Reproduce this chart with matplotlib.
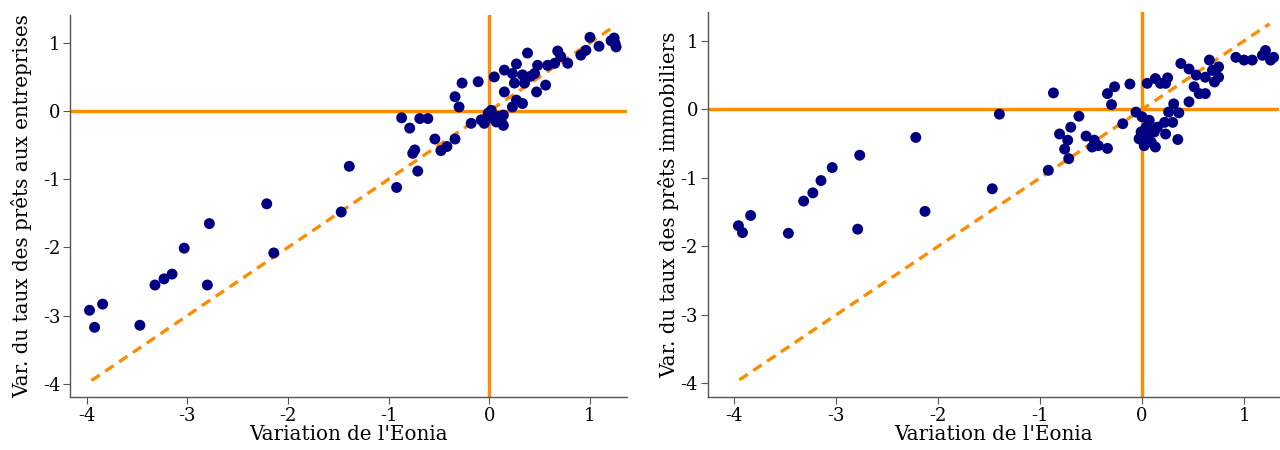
import matplotlib
matplotlib.use("Agg")
import matplotlib.pyplot as plt

# Variation de l'Eonia vs. variation du taux des prêts aux entreprises
x_ent = [-3.97, -3.92, -3.84, -3.47, -3.32, -3.23, -3.15, -3.03, -2.78, -2.80,
         -2.21, -2.14, -1.47, -1.39, -0.92, -0.71, -0.76, -0.74, -0.87, -0.79,
         -0.69, -0.61, -0.54, -0.48, -0.42, -0.34, -0.34, -0.30, -0.27, -0.11,
         -0.18, -0.01, 0.04, 0.09, 0.12, -0.05, 0.07, 0.14, 0.02, -0.08,
         0.14, -0.05, 0.05, 0.15, 0.23, 0.27, 0.15, 0.25, 0.33, 0.35,
         0.41, 0.48, 0.58, 0.65, 0.56, 0.47, 0.23, 0.33, 0.27, 0.38,
         0.45, 0.68, 0.71, 0.78, 0.91, 0.96, 1.00, 1.09, 1.21, 1.25,
         1.26, 1.24]
y_ent = [-2.92, -3.17, -2.83, -3.14, -2.55, -2.46, -2.39, -2.01, -1.65, -2.55,
         -1.36, -2.08, -1.48, -0.81, -1.12, -0.88, -0.62, -0.57, -0.10, -0.25,
         -0.11, -0.11, -0.41, -0.58, -0.52, -0.41, 0.21, 0.06, 0.41, 0.43,
         -0.18, -0.03, -0.11, -0.08, -0.16, -0.16, -0.16, -0.06, 0.01, -0.13,
         -0.21, -0.18, 0.50, 0.60, 0.55, 0.69, 0.28, 0.41, 0.53, 0.41,
         0.51, 0.67, 0.67, 0.70, 0.38, 0.28, 0.06, 0.11, 0.16, 0.85,
         0.55, 0.88, 0.80, 0.70, 0.82, 0.89, 1.08, 0.95, 1.03, 0.99,
         0.94, 1.07]

# Variation de l'Eonia vs. variation du taux des prêts immobiliers
x_imm = [-3.96, -3.92, -3.84, -3.47, -3.32, -3.23, -3.15, -3.04, -2.77, -2.79,
         -2.22, -2.13, -1.47, -1.40, -0.92, -0.87, -0.81, -0.62, -0.70, -0.73,
         -0.76, -0.72, -0.55, -0.47, -0.43, -0.49, -0.34, -0.19, -0.34, -0.27,
         -0.30, -0.12, -0.06, 0.00, 0.07, 0.04, -0.01, 0.10, 0.05, -0.03,
         0.09, 0.13, 0.02, 0.12, 0.15, 0.05, 0.13, 0.18, 0.25, 0.23,
         0.38, 0.46, 0.51, 0.56, 0.62, 0.53, 0.62, 0.71, 0.69, 0.46,
         0.31, 0.36, 0.26, 0.30, 0.22, 0.23, 0.35, 0.75, 0.66, 0.75,
         0.92, 1.00, 1.08, 1.18, 1.21, 1.26, 1.29]
y_imm = [-1.70, -1.80, -1.55, -1.81, -1.34, -1.22, -1.04, -0.85, -0.67, -1.75,
         -0.41, -1.49, -1.16, -0.07, -0.89, 0.24, -0.36, -0.10, -0.26, -0.45,
         -0.58, -0.72, -0.39, -0.45, -0.53, -0.55, -0.57, -0.21, 0.23, 0.33,
         0.07, 0.37, -0.04, -0.11, -0.16, -0.26, -0.33, -0.31, -0.40, -0.43,
         -0.48, -0.55, -0.53, -0.33, -0.26, 0.38, 0.45, 0.38, 0.46, 0.38,
         0.67, 0.59, 0.33, 0.23, 0.23, 0.50, 0.47, 0.40, 0.57, 0.11,
         0.08, -0.05, -0.04, -0.19, -0.19, -0.36, -0.44, 0.47, 0.72, 0.62,
         0.76, 0.72, 0.72, 0.79, 0.86, 0.72, 0.76]

diag = [-3.95, 1.25]
ticks = [-4, -3, -2, -1, 0, 1]

orange = "#ff8c00"
navy = "#000080"

plt.rcParams['font.family'] = ['DejaVu Serif']
plt.rcParams['axes.unicode_minus'] = False

fig = plt.figure(figsize=(12.8, 4.5), dpi=100)
ax1 = fig.add_axes([0.055, 0.118, 0.435, 0.849])
ax2 = fig.add_axes([0.553, 0.118, 0.446, 0.855])

panels = [
    (ax1, x_ent, y_ent, "Var. du taux des prêts aux entreprises", (-4.16, 1.37), (-4.19, 1.41), 8),
    (ax2, x_imm, y_imm, "Var. du taux des prêts immobiliers", (-4.26, 1.34), (-4.2, 1.42), 1),
]

for ax, xs, ys, ylab, xlim, ylim, ypad in panels:
    ax.axhline(0, color=orange, lw=2.4, zorder=1)
    ax.axvline(0, color=orange, lw=2.4, zorder=1)
    ax.plot(diag, diag, color=orange, lw=2.4, ls=(0, (3, 2)), zorder=2)
    ax.scatter(xs, ys, s=62, color=navy, edgecolors="none", zorder=3)
    ax.set_xlim(*xlim)
    ax.set_ylim(*ylim)
    ax.set_xticks(ticks)
    ax.set_yticks(ticks)
    ax.set_xlabel("Variation de l'Eonia", fontsize=14.3, labelpad=0)
    ax.set_ylabel(ylab, fontsize=14.3, labelpad=ypad)
    for side in ["top", "right"]:
        ax.spines[side].set_visible(False)
    for side in ["left", "bottom"]:
        ax.spines[side].set_color("#555555")
        ax.spines[side].set_linewidth(1.0)
    ax.tick_params(labelsize=13, color="#555555", length=5, pad=2)

plt.savefig("out.png", dpi=100)
